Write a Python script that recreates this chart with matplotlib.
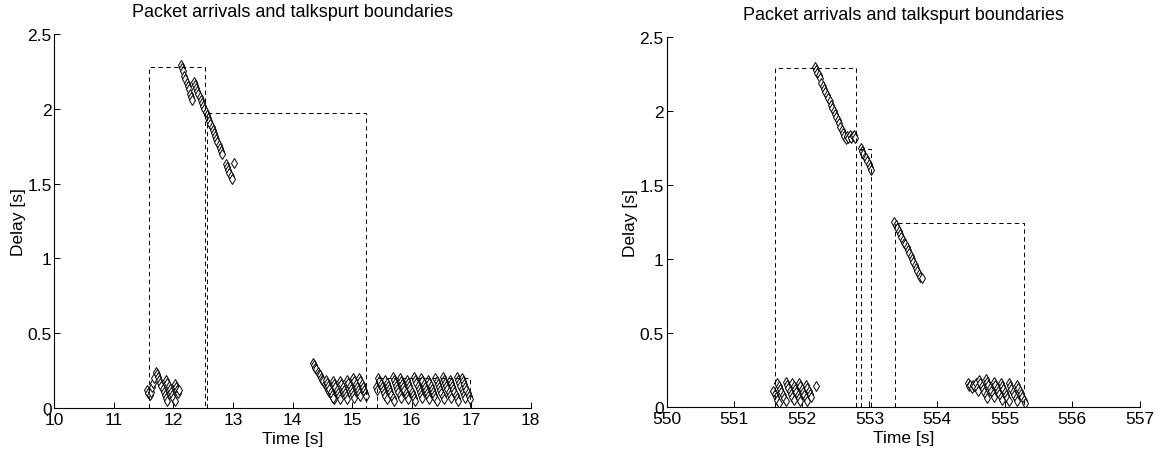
import matplotlib
matplotlib.use("Agg")
import matplotlib.pyplot as plt
from matplotlib.ticker import FormatStrFormatter

plt.rcParams['font.family'] = ['Liberation Sans', 'DejaVu Sans']

### DONNEES - panneau gauche (temps [s], delai [s])
# petit groupe bas vers 11.6-12.1 s
l1_t = [11.56, 11.58, 11.60, 11.62, 11.64, 11.66, 11.68, 11.70,
        11.72, 11.74, 11.76, 11.78, 11.80, 11.82, 11.84, 11.86, 11.88, 11.90,
        11.88, 11.90, 11.92, 11.94, 11.96, 11.98, 12.00, 12.02,
        12.02, 12.04, 12.06, 12.08, 12.10]
l1_d = [0.12, 0.10, 0.09, 0.11, 0.14, 0.17, 0.20, 0.24,
        0.23, 0.21, 0.19, 0.17, 0.15, 0.13, 0.11, 0.09, 0.07, 0.05,
        0.19, 0.17, 0.15, 0.13, 0.11, 0.09, 0.07, 0.05,
        0.16, 0.14, 0.12, 0.10, 0.12]

# rafale haute 12.1-13 s
l2_t = [12.12, 12.14, 12.16, 12.18, 12.20, 12.22, 12.24, 12.26, 12.28, 12.30, 12.32,
        12.34, 12.36, 12.38, 12.40, 12.42, 12.44, 12.46, 12.48, 12.50, 12.52, 12.54, 12.56, 12.58,
        12.60, 12.62, 12.64, 12.66, 12.68, 12.70, 12.72, 12.74, 12.76, 12.78, 12.80, 12.82,
        12.88, 12.90, 12.92, 12.94, 12.96, 12.98, 13.02]
l2_d = [2.29, 2.27, 2.25, 2.22, 2.20, 2.17, 2.15, 2.13, 2.10, 2.08, 2.06,
        2.18, 2.16, 2.14, 2.12, 2.10, 2.08, 2.06, 2.04, 2.02, 2.00, 1.98, 1.96, 1.94,
        1.92, 1.90, 1.88, 1.86, 1.84, 1.82, 1.80, 1.78, 1.76, 1.74, 1.72, 1.70,
        1.63, 1.61, 1.59, 1.57, 1.55, 1.53, 1.64]

# groupe 14.3-15.25 s
l3_t = [14.34, 14.36, 14.38, 14.40, 14.42, 14.44, 14.46, 14.48, 14.50, 14.52,
        14.54, 14.56, 14.58, 14.60, 14.62, 14.64, 14.66, 14.68, 14.70,
        14.56, 14.58, 14.60, 14.62, 14.64, 14.66, 14.68,
        14.68, 14.70, 14.72, 14.74, 14.76, 14.78, 14.80,
        14.80, 14.82, 14.84, 14.86, 14.88, 14.90, 14.92,
        14.92, 14.94, 14.96, 14.98, 15.00, 15.02, 15.04,
        15.02, 15.04, 15.06, 15.08, 15.10, 15.12, 15.14,
        15.12, 15.14, 15.16, 15.18, 15.20, 15.22, 15.24]
l3_d = [0.30, 0.29, 0.27, 0.26, 0.24, 0.23, 0.22, 0.20, 0.19, 0.18,
        0.16, 0.15, 0.14, 0.12, 0.11, 0.10, 0.08, 0.07, 0.06,
        0.19, 0.17, 0.15, 0.13, 0.11, 0.09, 0.07,
        0.18, 0.16, 0.14, 0.12, 0.10, 0.08, 0.06,
        0.18, 0.16, 0.14, 0.12, 0.10, 0.08, 0.06,
        0.19, 0.17, 0.15, 0.13, 0.11, 0.09, 0.07,
        0.20, 0.18, 0.16, 0.14, 0.12, 0.10, 0.08,
        0.20, 0.18, 0.16, 0.14, 0.12, 0.10, 0.08]

# groupe 15.4-17 s
l4_t = [15.40, 15.42,
        15.44, 15.46, 15.48, 15.50, 15.52, 15.54, 15.56, 15.58,
        15.56, 15.58, 15.60, 15.62, 15.64, 15.66, 15.68, 15.70,
        15.68, 15.70, 15.72, 15.74, 15.76, 15.78, 15.80, 15.82,
        15.80, 15.82, 15.84, 15.86, 15.88, 15.90, 15.92, 15.94,
        15.92, 15.94, 15.96, 15.98, 16.00, 16.02, 16.04, 16.06,
        16.04, 16.06, 16.08, 16.10, 16.12, 16.14, 16.16, 16.18,
        16.16, 16.18, 16.20, 16.22, 16.24, 16.26, 16.28, 16.30,
        16.28, 16.30, 16.32, 16.34, 16.36, 16.38, 16.40, 16.42,
        16.40, 16.42, 16.44, 16.46, 16.48, 16.50, 16.52, 16.54,
        16.52, 16.54, 16.56, 16.58, 16.60, 16.62, 16.64, 16.66,
        16.64, 16.66, 16.68, 16.70, 16.72, 16.74, 16.76, 16.78,
        16.76, 16.78, 16.80, 16.82, 16.84, 16.86, 16.88, 16.90,
        16.84, 16.86, 16.88, 16.90, 16.92, 16.94, 16.96, 16.98]
l4_d = [0.14, 0.12,
        0.20, 0.18, 0.16, 0.14, 0.12, 0.10, 0.08, 0.06,
        0.19, 0.17, 0.15, 0.13, 0.11, 0.09, 0.07, 0.05,
        0.21, 0.19, 0.17, 0.15, 0.13, 0.11, 0.09, 0.07,
        0.20, 0.18, 0.16, 0.14, 0.12, 0.10, 0.08, 0.06,
        0.19, 0.17, 0.15, 0.13, 0.11, 0.09, 0.07, 0.05,
        0.21, 0.19, 0.17, 0.15, 0.13, 0.11, 0.09, 0.07,
        0.20, 0.18, 0.16, 0.14, 0.12, 0.10, 0.08, 0.06,
        0.19, 0.17, 0.15, 0.13, 0.11, 0.09, 0.07, 0.05,
        0.20, 0.18, 0.16, 0.14, 0.12, 0.10, 0.08, 0.06,
        0.21, 0.19, 0.17, 0.15, 0.13, 0.11, 0.09, 0.07,
        0.19, 0.17, 0.15, 0.13, 0.11, 0.09, 0.07, 0.05,
        0.21, 0.19, 0.17, 0.15, 0.13, 0.11, 0.09, 0.07,
        0.20, 0.18, 0.16, 0.14, 0.12, 0.10, 0.08, 0.06]

# limites de talkspurt (debut, fin, hauteur)
l_deb = [11.585, 12.56, 15.42]
l_fin = [12.53, 15.23, 16.98]
l_haut = [2.28, 1.97, 0.20]

### DONNEES - panneau droit
r1_t = [551.58, 551.60, 551.62, 551.64, 551.66,
        551.64, 551.66, 551.68, 551.70, 551.72, 551.74, 551.76,
        551.76, 551.78, 551.80, 551.82, 551.84, 551.86, 551.88,
        551.86, 551.88, 551.90, 551.92, 551.94, 551.96, 551.98,
        551.96, 551.98, 552.00, 552.02, 552.04, 552.06, 552.08,
        552.06, 552.08, 552.10, 552.12, 552.14,
        552.21]
r1_d = [0.11, 0.09, 0.07, 0.05, 0.03,
        0.16, 0.14, 0.12, 0.10, 0.08, 0.06, 0.04,
        0.17, 0.15, 0.13, 0.11, 0.09, 0.07, 0.05,
        0.16, 0.14, 0.12, 0.10, 0.08, 0.06, 0.04,
        0.16, 0.14, 0.12, 0.10, 0.08, 0.06, 0.04,
        0.15, 0.13, 0.11, 0.09, 0.07,
        0.14]

r2_t = [552.19, 552.21, 552.23, 552.25, 552.27, 552.29, 552.31, 552.33, 552.35, 552.37,
        552.39, 552.41, 552.43, 552.45, 552.47, 552.49, 552.51, 552.53, 552.55, 552.57,
        552.59, 552.61, 552.63, 552.65,
        552.67, 552.69, 552.71, 552.73, 552.75, 552.77, 552.79,
        552.87, 552.89, 552.91, 552.93, 552.95, 552.97, 552.99, 553.01, 553.03]
r2_d = [2.30, 2.28, 2.26, 2.24, 2.22, 2.19, 2.17, 2.15, 2.13, 2.11,
        2.09, 2.07, 2.04, 2.02, 2.00, 1.98, 1.96, 1.94, 1.92, 1.89,
        1.87, 1.85, 1.83, 1.81,
        1.83, 1.82, 1.84, 1.82, 1.83, 1.84, 1.82,
        1.75, 1.73, 1.71, 1.69, 1.68, 1.66, 1.64, 1.62, 1.60]

r3_t = [553.37, 553.39, 553.41, 553.43, 553.45, 553.47, 553.49, 553.51, 553.53, 553.55,
        553.57, 553.59, 553.61, 553.63, 553.65, 553.67, 553.69, 553.71, 553.73, 553.75, 553.77]
r3_d = [1.25, 1.23, 1.21, 1.19, 1.17, 1.15, 1.13, 1.11, 1.10, 1.08,
        1.06, 1.04, 1.02, 1.00, 0.98, 0.96, 0.94, 0.92, 0.90, 0.88, 0.87]

r4_t = [554.45, 554.47, 554.49, 554.51, 554.53, 554.55, 554.57, 554.59, 554.61,
        554.62, 554.64, 554.66, 554.68, 554.70, 554.72, 554.74,
        554.72, 554.74, 554.76, 554.78, 554.80, 554.82, 554.84,
        554.84, 554.86, 554.88, 554.90, 554.92, 554.94, 554.96,
        554.94, 554.96, 554.98, 555.00, 555.02, 555.04, 555.06,
        555.06, 555.08, 555.10, 555.12, 555.14, 555.16, 555.18,
        555.18, 555.20, 555.22, 555.24, 555.26, 555.28, 555.30]
r4_d = [0.16, 0.14, 0.15, 0.13, 0.15, 0.14, 0.16, 0.13, 0.11,
        0.18, 0.16, 0.14, 0.12, 0.10, 0.08, 0.06,
        0.19, 0.17, 0.15, 0.13, 0.11, 0.09, 0.07,
        0.17, 0.15, 0.13, 0.11, 0.09, 0.07, 0.05,
        0.16, 0.14, 0.12, 0.10, 0.08, 0.06, 0.04,
        0.16, 0.14, 0.12, 0.10, 0.08, 0.06, 0.04,
        0.15, 0.13, 0.11, 0.09, 0.07, 0.05, 0.03]

r_deb = [551.60, 552.88, 553.38]
r_fin = [552.80, 553.02, 555.28]
r_haut = [2.29, 1.74, 1.24]


###FONCTION
def panneau(ax, groupes, deb, fin, haut, xlim, xticks):
    for t, d in groupes:
        ax.plot(t, d, linestyle='none', marker='d', markersize=5,
                markerfacecolor='white', markeredgecolor='black', markeredgewidth=0.7)
    for s, e, h in zip(deb, fin, haut):
        ax.plot([s, s, e, e], [0, h, h, 0], color='black', linewidth=0.7,
                linestyle=(0, (4.5, 3.5)))
    ax.set_xlim(*xlim)
    ax.set_ylim(0, 2.5)
    ax.set_xticks(xticks)
    ax.set_yticks([0, 0.5, 1, 1.5, 2, 2.5])
    ax.xaxis.set_major_formatter(FormatStrFormatter('%g'))
    ax.yaxis.set_major_formatter(FormatStrFormatter('%g'))
    ax.spines['top'].set_visible(False)
    ax.spines['right'].set_visible(False)
    for sp in ['left', 'bottom']:
        ax.spines[sp].set_linewidth(0.8)
    ax.tick_params(direction='in', length=4, width=0.7, labelsize=12.5)
    ax.tick_params(axis='x', pad=3)
    ax.tick_params(axis='y', pad=2)
    ax.set_xlabel('Time [s]', fontsize=12.5, labelpad=3)
    ax.set_ylabel('Delay [s]', fontsize=12.5, labelpad=1)
    ax.set_title('Packet arrivals and talkspurt boundaries', fontsize=13, pad=13)


fig = plt.figure(figsize=(11.6, 4.56), dpi=100)
ax1 = fig.add_axes([54.3 / 1160, 47 / 456, 476.4 / 1160, 374 / 456])
ax2 = fig.add_axes([666.5 / 1160, 48 / 456, 473.5 / 1160, 370 / 456])

panneau(ax1, [(l1_t, l1_d), (l2_t, l2_d), (l3_t, l3_d), (l4_t, l4_d)],
        l_deb, l_fin, l_haut, (10, 18), range(10, 19))
panneau(ax2, [(r1_t, r1_d), (r2_t, r2_d), (r3_t, r3_d), (r4_t, r4_d)],
        r_deb, r_fin, r_haut, (550, 557), range(550, 558))

fig.savefig('out.png', dpi=100)
